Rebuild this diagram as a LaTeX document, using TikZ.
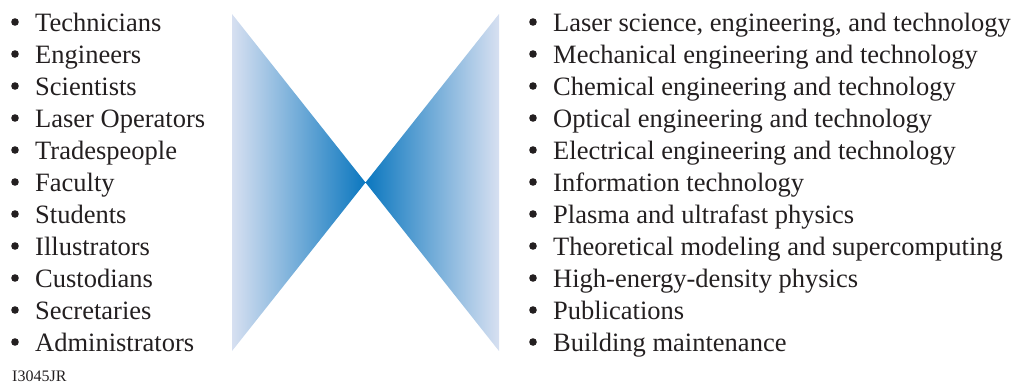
\documentclass[tikz,border=0pt]{standalone}
\usepackage{fontspec}
\setmainfont{Liberation Serif}
\definecolor{tipblue}{HTML}{0B77BF}
\definecolor{midblue}{HTML}{7C9FD4}
\definecolor{edgeblue}{HTML}{D7E0F1}
\definecolor{inkgray}{HTML}{231F20}
\tikzset{
  listfont/.style={font=\fontsize{26.5}{32}\selectfont, text=inkgray},
  item/.style={listfont, anchor=base west, inner sep=0pt},
  dot/.style={circle, fill=inkgray, minimum size=7.6pt, inner sep=0pt},
  tag/.style={font=\fontsize{16}{18}\selectfont, text=inkgray, anchor=base west, inner sep=0pt}
}
\begin{document}
\begin{tikzpicture}[x=1pt,y=-1pt]
  \useasboundingbox (0,0) rectangle (1016,383);

  % bow-tie: two shaded triangles meeting at the centre point
  \coordinate (tip) at (365.5,182.5);
  \coordinate (lt) at (232,14);
  \coordinate (lb) at (232,351);
  \coordinate (rt) at (499,14);
  \coordinate (rb) at (499,351);
  \shade[left color=edgeblue, middle color=midblue, right color=tipblue]
    (lt) -- (tip) -- (lb) -- cycle;
  \shade[left color=tipblue, middle color=midblue, right color=edgeblue]
    (rt) -- (tip) -- (rb) -- cycle;

  % left list: people
  \foreach \t [count=\i] in {Technicians, Engineers, Scientists, Laser Operators,
      Tradespeople, Faculty, Students, Illustrators, Custodians, Secretaries,
      Administrators} {
    \node[dot] (lb\i) at (15,{32*\i-10}) {};
    \node[item] (l\i) at (35,{32*\i-0.5}) {\t};
  }

  % right list: disciplines
  \foreach \t [count=\i] in {{Laser science, engineering, and technology},
      Mechanical engineering and technology,
      Chemical engineering and technology,
      Optical engineering and technology,
      Electrical engineering and technology,
      Information technology,
      Plasma and ultrafast physics,
      Theoretical modeling and supercomputing,
      High-energy-density physics,
      Publications,
      Building maintenance} {
    \node[dot] (rb\i) at (533,{32*\i-10}) {};
    \node[item] (r\i) at (553,{32*\i-0.5}) {\t};
  }

  \node[tag] (id) at (12,381) {I3045JR};
\end{tikzpicture}
\end{document}
